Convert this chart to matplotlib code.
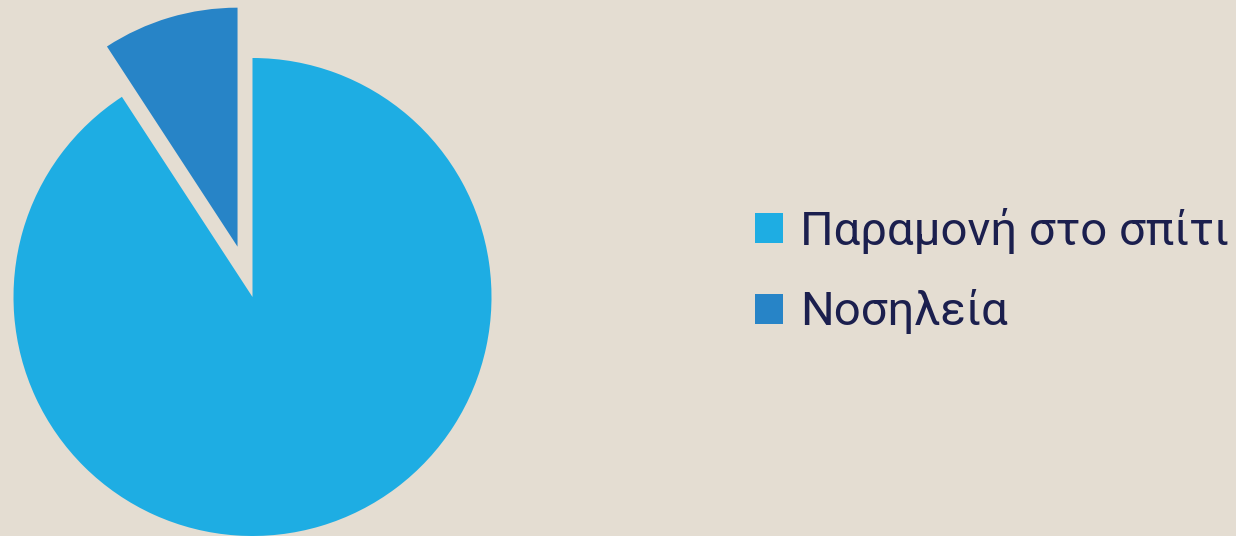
import matplotlib.pyplot as plt

# Data
labels = ['Παραμονή στο σπίτι', 'Νοσηλεία']
shares = [90.8, 9.2]
explode = [0, 52.5]   # pixel units, the pie is drawn in pixel coordinates
colors = ['#1EADE3', '#2784C7']

bg = '#E4DDD2'
text_color = '#1B1F4E'

plt.rcParams['font.family'] = ['Roboto', 'DejaVu Sans']

fig = plt.figure(figsize=(12.36, 5.36), dpi=100)
fig.patch.set_facecolor(bg)
ax = fig.add_axes([0, 0, 1, 1])
ax.set_facecolor(bg)

# pie in pixel units: centre (252.5, 239), radius 239
wedges, _ = ax.pie(shares, explode=explode, colors=colors, startangle=90,
                   counterclock=False, radius=239, center=(252.5, 239),
                   wedgeprops=dict(linewidth=0))
ax.set_xlim(0, 1236)
ax.set_ylim(0, 536)
ax.set_aspect('equal')
ax.axis('off')

leg = ax.legend(wedges, labels, loc='center left',
                bbox_to_anchor=(755 / 1236, 265 / 536),
                frameon=False, fontsize=34,
                handlelength=0.6, handleheight=0.6, handletextpad=0.35,
                labelspacing=0.75, borderaxespad=0, borderpad=0)
for t in leg.get_texts():
    t.set_color(text_color)
    t.set_fontweight('normal')

fig.savefig('out.png', dpi=100, facecolor=bg)
